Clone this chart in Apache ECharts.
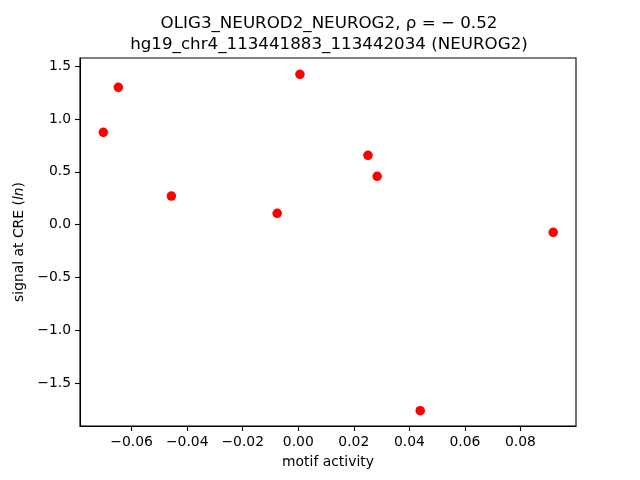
<!DOCTYPE html>
<html>
<head>
<meta charset="utf-8">
<script src="https://cdn.jsdelivr.net/npm/echarts@6/dist/echarts.min.js"></script>
<style>html,body{margin:0;padding:0;background:#fff;}#c{width:640px;height:480px;}</style>
</head>
<body>
<div id="c"></div>
<script>
const motifActivity = [-0.0702, -0.0648, -0.0457, -0.0076, 0.0006, 0.0251, 0.0284, 0.0439, 0.0918];
const signalAtCRE   = [0.873, 1.299, 0.271, 0.108, 1.422, 0.656, 0.457, -1.758, -0.072];
const xTicks = [-0.06, -0.04, -0.02, 0.00, 0.02, 0.04, 0.06, 0.08];
const yTicks = [-1.5, -1.0, -0.5, 0.0, 0.5, 1.0, 1.5];
const titleLines = ['OLIG3_NEUROD2_NEUROG2, \u03c1 = \u2212 0.52', 'hg19_chr4_113441883_113442034 (NEUROG2)'];

const fmt = (v, d) => (v < 0 ? '\u2212' : '') + Math.abs(v).toFixed(d);
const font = 'DejaVu Sans';

const chart = echarts.init(document.getElementById('c'), null, {renderer: 'canvas'});
chart.setOption({
  animation: false,
  backgroundColor: '#fff',
  title: {
    text: titleLines.join('\n'),
    left: 324, top: 8, textAlign: 'center',
    textStyle: {fontFamily: font, fontSize: 16.7, fontWeight: 'normal', color: '#000', lineHeight: 21}
  },
  grid: {left: 80, right: 64, top: 58, bottom: 54, show: true, borderColor: '#000', borderWidth: 1.1, backgroundColor: 'transparent'},
  xAxis: {
    type: 'value', min: -0.0786, max: 0.1000,
    name: 'motif activity', nameLocation: 'middle', nameGap: 29,
    nameTextStyle: {fontFamily: font, fontSize: 13.9, color: '#000'},
    axisLine: {show: true, onZero: false, lineStyle: {color: '#000', width: 1.1}},
    axisTick: {show: true, inside: false, length: 5, lineStyle: {color: '#000', width: 1.1}, customValues: xTicks},
    axisLabel: {fontFamily: font, fontSize: 13.9, color: '#000', margin: 9, customValues: xTicks, formatter: v => fmt(v, 2)},
    splitLine: {show: false}
  },
  yAxis: {
    type: 'value', min: -1.903, max: 1.576,
    name: '{a|signal at CRE (}{b|ln}{a|)}', nameLocation: 'middle', nameGap: 53, nameRotate: 90,
    nameTextStyle: {fontFamily: font, fontSize: 13.9, color: '#000',
      rich: {a: {fontFamily: font, fontSize: 13.9, color: '#000'}, b: {fontFamily: font, fontSize: 13.9, fontStyle: 'italic', color: '#000'}}},
    axisLine: {show: true, onZero: false, lineStyle: {color: '#000', width: 1.1}},
    axisTick: {show: true, inside: false, length: 5, lineStyle: {color: '#000', width: 1.1}, customValues: yTicks},
    axisLabel: {fontFamily: font, fontSize: 13.9, color: '#000', margin: 9, customValues: yTicks, formatter: v => fmt(v, 1)},
    splitLine: {show: false}
  },
  series: [{
    type: 'scatter',
    data: motifActivity.map((x, i) => [x, signalAtCRE[i]]),
    symbol: 'circle', symbolSize: 9.5,
    itemStyle: {color: '#ff0000', opacity: 1}
  }]
});
</script>
</body>
</html>
